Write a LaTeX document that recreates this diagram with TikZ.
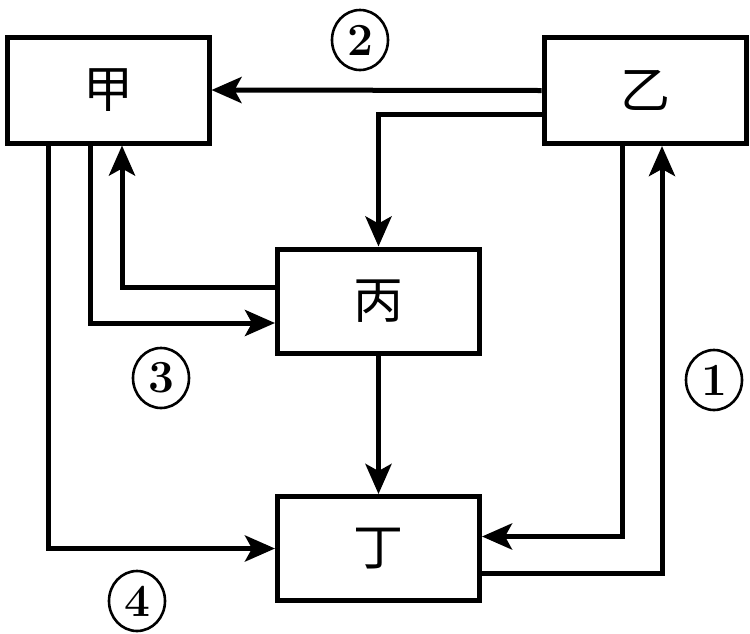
\documentclass[tikz,border=0pt]{standalone}
\usepackage{fontspec}
\newfontfamily\cjk{Noto Sans CJK SC}
\usetikzlibrary{arrows.meta,shapes.geometric}
\begin{document}
\begin{tikzpicture}[x=1pt,y=-1pt,
  box/.style={draw,line width=5pt,inner sep=0pt,font=\cjk\fontsize{50}{52}\selectfont},
  arr/.style={line width=5pt,-{Stealth[length=30pt,width=26pt,inset=7pt]}},
  num/.style={draw,ellipse,line width=2.6pt,minimum width=56pt,minimum height=60pt,inner sep=0pt,font=\bfseries\fontsize{46}{48}\selectfont}]
\useasboundingbox (0,0) rectangle (750,633);
\node[box,minimum width=202pt,minimum height=106pt] (jia) at (108,90) {甲};
\node[box,minimum width=202pt,minimum height=106pt] (yi) at (645,90.5) {乙};
\node[box,minimum width=202pt,minimum height=104pt] (bing) at (378.5,301) {丙};
\node[box,minimum width=202pt,minimum height=104pt] (ding) at (378.5,548.5) {丁};
\node[num] (n2) at (360,40) {2};
\node[num] (n3) at (161,378) {3};
\node[num] (n4) at (137,601) {4};
\node[num] (n1) at (714,380) {1};
\draw[arr] (yi.west) -- (jia.east);
\draw[arr] ([yshift=-24pt]yi.west) -| (bing.north);
\draw[arr] ([yshift=14pt]bing.west) -| ([xshift=14pt]jia.south);
\draw[arr] ([xshift=-18pt]jia.south) |- ([yshift=-22pt]bing.west);
\draw[arr] (bing.south) -- (ding.north);
\draw[arr] ([xshift=-60pt]jia.south) |- (ding.west);
\draw[arr] ([xshift=-23pt]yi.south) |- ([yshift=12pt]ding.east);
\draw[arr] ([yshift=-25pt]ding.east) -| ([xshift=17pt]yi.south);
\end{tikzpicture}
\end{document}
